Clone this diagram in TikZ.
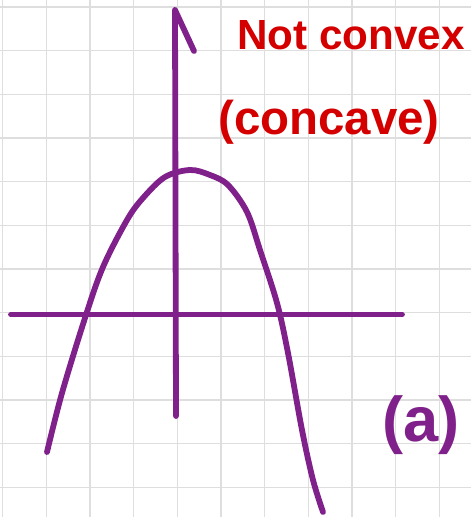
\documentclass[tikz,border=0pt]{standalone}
\usepackage{fontspec}
\setmainfont{Liberation Sans}
\definecolor{penpurple}{RGB}{128,32,138}
\definecolor{penred}{RGB}{212,0,0}
\begin{document}
\begin{tikzpicture}[x=0.02cm, y=-0.02cm,
  gridline/.style={draw=black!13, line width=0.8pt},
  pen/.style={draw=penpurple, line width=3.3pt, line cap=round, line join=round},
  note/.style={text=penred, font=\bfseries\fontsize{#1}{#1}\selectfont, inner sep=0pt}]
\useasboundingbox (0,0) rectangle (471,517);
\foreach \i in {0,...,10}
  \draw[gridline] ({2.7+43.67*\i},0) -- ({2.7+43.67*\i},517);
\foreach \j in {0,...,11}
  \draw[gridline] (0,{7+43.67*\j}) -- (471,{7+43.67*\j});
\coordinate (xleft) at (11,314.5);
\coordinate (xright) at (402,314.5);
\coordinate (ybottom) at (176,416);
\coordinate (ytop) at (175,10);
\coordinate (ybarb) at (194,51);
\draw[pen] (xleft) -- (xright);
\draw[pen] (ybottom) -- (ytop) -- (ybarb);
\draw[pen] plot[smooth, tension=0.55] coordinates {(47,452) (62,393) (85,318) (103,267) (127,220) (143,198) (165,177) (190,170) (210,175) (228,185) (247,212) (260,250) (277,303) (288,353) (302,430) (313,480) (323,512)};
\node[note=24] (title) at (351,35) {Not convex};
\node[note=27] (sub) at (329,122) {(concave)};
\node[note=36, text=penpurple] (tag) at (421,425) {(a)};
\end{tikzpicture}
\end{document}
